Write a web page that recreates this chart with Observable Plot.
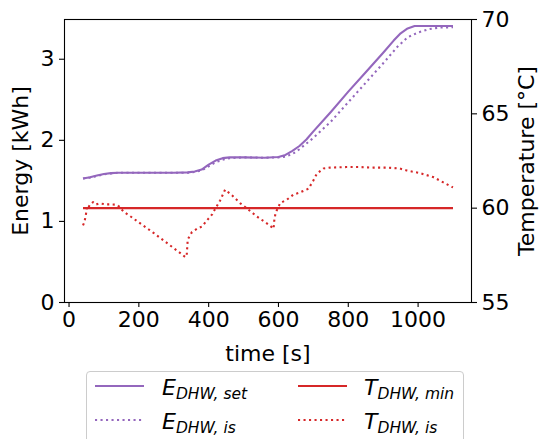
<!DOCTYPE html>
<html><head><meta charset="utf-8">
<script src="https://cdn.jsdelivr.net/npm/d3@7"></script>
<script src="https://cdn.jsdelivr.net/npm/@observablehq/plot@0.6"></script>
<style>
html,body{margin:0;padding:0;background:#fff;}
#wrap{position:relative;width:539px;height:439px;overflow:hidden;font-family:"DejaVu Sans",sans-serif;}
#legend{position:absolute;left:86px;top:371px;width:378px;height:90px;border:1px solid #cccccc;border-radius:4px;background:rgba(255,255,255,0.8);box-sizing:border-box;}
.item{position:absolute;}
.lab{position:absolute;font-style:italic;font-size:22px;line-height:22px;white-space:nowrap;color:#000;}
.lab sub{font-size:15.5px;vertical-align:-4px;line-height:0;}
</style>
</head><body>
<div id="wrap"><div id="chart"></div>
<div id="legend"></div></div>
<script>
// ---- data ----
const eSetTime  = [40, 60, 80, 100, 120, 140, 200, 300, 340, 360, 380, 400, 420, 440, 460, 500, 560, 600, 620, 640, 660, 680, 700, 750, 800, 850, 900, 930, 950, 970, 990, 1100];
const eSetValue = [1.53, 1.545, 1.565, 1.585, 1.595, 1.60, 1.60, 1.60, 1.605, 1.615, 1.64, 1.70, 1.75, 1.78, 1.79, 1.79, 1.785, 1.795, 1.82, 1.87, 1.93, 2.01, 2.11, 2.35, 2.60, 2.84, 3.08, 3.23, 3.32, 3.38, 3.41, 3.41];
const eIsTime   = [40, 60, 80, 100, 120, 140, 200, 300, 340, 360, 380, 400, 420, 440, 460, 500, 560, 600, 620, 640, 660, 680, 700, 750, 800, 850, 900, 940, 970, 1000, 1030, 1060, 1100];
const eIsValue  = [1.53, 1.54, 1.56, 1.58, 1.59, 1.60, 1.60, 1.60, 1.60, 1.61, 1.63, 1.68, 1.73, 1.76, 1.78, 1.79, 1.785, 1.79, 1.80, 1.83, 1.89, 1.96, 2.03, 2.23, 2.47, 2.71, 2.95, 3.15, 3.27, 3.33, 3.37, 3.39, 3.395];
const tMinTime  = [40, 1100];
const tMinValue = [60, 60];
const tIsTime   = [40, 44, 48, 50, 52, 56, 60, 64, 69, 74, 78, 85, 93, 100, 107, 120, 131, 140, 157, 175, 192, 211, 240, 270, 300, 320, 333, 337, 338, 340, 345, 352, 367, 381, 395, 410, 419, 433, 447, 467, 490, 514, 538, 560, 571, 586, 588, 591, 595, 605, 624, 643, 657, 686, 700, 710, 729, 748, 795, 830, 872, 910, 948, 967, 1005, 1043, 1071, 1093, 1100];
const tIsValue  = [59.09, 59.26, 59.62, 59.88, 60.12, 60.05, 60.2, 60.25, 60.32, 60.22, 60.2, 60.24, 60.24, 60.22, 60.2, 60.2, 60.19, 60.15, 59.8, 59.58, 59.35, 59.1, 58.72, 58.3, 57.88, 57.6, 57.41, 57.45, 57.76, 58.34, 58.5, 58.73, 58.91, 59.03, 59.35, 59.67, 59.97, 60.41, 60.98, 60.68, 60.27, 59.92, 59.56, 59.28, 59.14, 58.91, 59.35, 59.67, 59.88, 60.27, 60.45, 60.72, 60.8, 61.03, 61.47, 61.83, 62.1, 62.15, 62.18, 62.18, 62.15, 62.15, 62.1, 62.0, 61.86, 61.65, 61.38, 61.16, 61.1];
const xTicks = [0, 200, 400, 600, 800, 1000];
const energyTicks = [0, 1, 2, 3];
const tempTicks = [55, 60, 65, 70];
const xDomain = [-13, 1153];
const energyDomain = [0, 3.49];
const tempDomain = [55, 70];

const colPurple = "#9467bd", colRed = "#d62728";
// map temperature onto the energy scale (twin axis)
const tToE = t => (t - tempDomain[0]) / (tempDomain[1] - tempDomain[0]) * (energyDomain[1] - energyDomain[0]) + energyDomain[0];
const eToT = e => (e - energyDomain[0]) / (energyDomain[1] - energyDomain[0]) * (tempDomain[1] - tempDomain[0]) + tempDomain[0];

const eSet = eSetTime.map((t, i) => ({t, v: eSetValue[i]}));
const eIs = eIsTime.map((t, i) => ({t, v: eIsValue[i]}));
const tMin = tMinTime.map((t, i) => ({t, v: tToE(tMinValue[i])}));
const tIs = tIsTime.map((t, i) => ({t, v: tToE(tIsValue[i])}));

const dots = "2.1,3.4";
const plain = d => String(d);
const plot = Plot.plot({
  width: 539, height: 368,
  marginLeft: 64, marginRight: 68, marginTop: 19, marginBottom: 66,
  style: {fontFamily: "DejaVu Sans", fontSize: "22px", color: "#000", background: "transparent", overflow: "visible"},
  x: {domain: xDomain},
  y: {domain: energyDomain},
  marks: [
    Plot.line(eSet, {x: "t", y: "v", stroke: colPurple, strokeWidth: 2.1, strokeLinecap: "butt"}),
    Plot.line(eIs, {x: "t", y: "v", stroke: colPurple, strokeWidth: 2.1, strokeDasharray: dots, strokeLinecap: "butt"}),
    Plot.line(tMin, {x: "t", y: "v", stroke: colRed, strokeWidth: 2.1, strokeLinecap: "butt"}),
    Plot.line(tIs, {x: "t", y: "v", stroke: colRed, strokeWidth: 2.1, strokeDasharray: dots, strokeLinecap: "butt"}),
    Plot.frame({stroke: "#000", strokeWidth: 1.1}),
    Plot.axisX({ticks: xTicks, tickFormat: plain, tickSize: 5, tickPadding: 4, strokeWidth: 1.1, label: "time [s]", labelAnchor: "center", labelArrow: "none", labelOffset: 58}),
    Plot.axisY({ticks: energyTicks, tickFormat: plain, tickSize: 5, tickPadding: 5, strokeWidth: 1.1, label: "Energy [kWh]", labelAnchor: "center", labelArrow: "none", labelOffset: 52}),
    Plot.axisY(tempTicks.map(tToE), {anchor: "right", tickSize: 5, tickPadding: 5, strokeWidth: 1.1, tickFormat: d => String(Math.round(eToT(d))), label: "Temperature [°C]", labelAnchor: "center", labelArrow: "none", labelOffset: 62})
  ]
});
document.getElementById("chart").appendChild(plot);

// ---- legend ----
const legendItems = [
  {main: "E", sub: "DHW, set", color: colPurple, dash: null, x: 8, lx: 75, row: 0},
  {main: "E", sub: "DHW, is", color: colPurple, dash: dots, x: 8, lx: 75, row: 1},
  {main: "T", sub: "DHW, min", color: colRed, dash: null, x: 211, lx: 277, row: 0},
  {main: "T", sub: "DHW, is", color: colRed, dash: dots, x: 211, lx: 277, row: 1}
];
const leg = document.getElementById("legend");
legendItems.forEach(it => {
  const y = it.row === 0 ? 14 : 48;
  const s = document.createElementNS("http://www.w3.org/2000/svg", "svg");
  s.setAttribute("width", 50); s.setAttribute("height", 6);
  s.setAttribute("class", "item");
  s.style.left = it.x + "px"; s.style.top = (y - 3) + "px";
  const l = document.createElementNS("http://www.w3.org/2000/svg", "line");
  l.setAttribute("x1", 0); l.setAttribute("x2", 49); l.setAttribute("y1", 3); l.setAttribute("y2", 3);
  l.setAttribute("stroke", it.color); l.setAttribute("stroke-width", 2.1);
  if (it.dash) l.setAttribute("stroke-dasharray", it.dash);
  s.appendChild(l); leg.appendChild(s);
  const t = document.createElement("div");
  t.className = "lab";
  t.style.left = it.lx + "px"; t.style.top = (y - 9) + "px";
  t.innerHTML = it.main + "<sub>" + it.sub + "</sub>";
  leg.appendChild(t);
});
</script>
</body></html>
